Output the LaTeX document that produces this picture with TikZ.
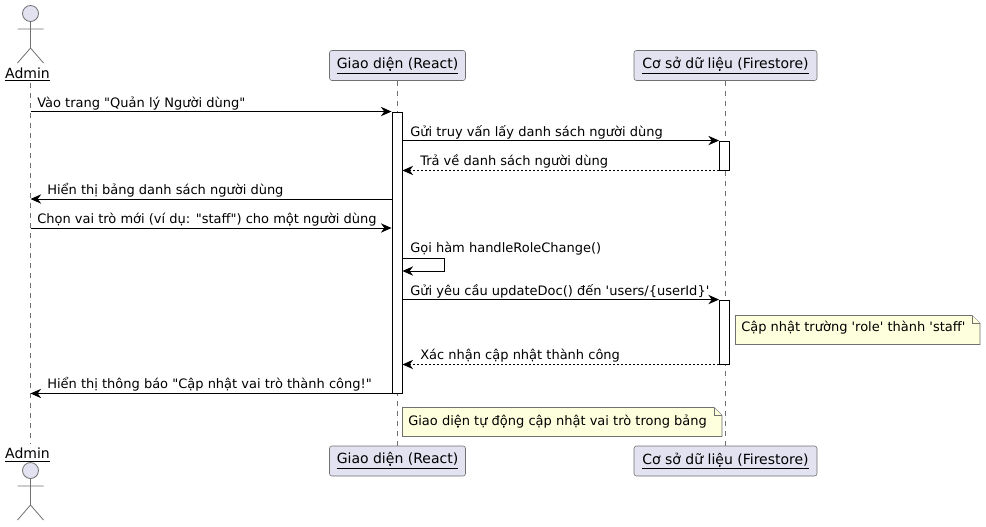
\documentclass[tikz,border=0pt]{standalone}
\usepackage{fontspec}
\setmainfont[Ligatures=TeXOff]{DejaVu Sans}
\usetikzlibrary{arrows.meta}
\definecolor{partfill}{HTML}{E2E2F0}
\definecolor{notefill}{HTML}{FEFFDD}
\definecolor{edgegray}{HTML}{707070}
\tikzset{
	partbox/.style={draw=edgegray, fill=partfill, rounded corners=1.8pt, minimum width=136\pxu, minimum height=30\pxu, inner sep=0pt, font=\fontsize{10.5}{12}\selectfont},
	actorname/.style={inner sep=0pt, font=\fontsize{10.5}{12}\selectfont},
	actorline/.style={draw=edgegray, line width=.6pt},
	lifeline/.style={draw=edgegray, line width=.5pt, dash pattern=on 3.75pt off 3.75pt},
	bar/.style={draw=black, fill=white, line width=.7pt, minimum width=10\pxu, inner sep=0pt},
	msg/.style={draw=black, line width=.75pt, -{Stealth[length=8pt, width=7pt, inset=2.6pt]}},
	reply/.style={msg, dash pattern=on 1.5pt off 1.5pt},
	msgtext/.style={anchor=base west, inner sep=0pt, font=\fontsize{9.75}{12}\selectfont},
	noteline/.style={draw=edgegray, fill=notefill, line width=.6pt},
}
\newlength{\pxu}
\setlength{\pxu}{.75pt}
\begin{document}
\begin{tikzpicture}[x=.75pt, y=-.75pt]
	\useasboundingbox (0,0) rectangle (986,526);

	\coordinate (adminTop) at (30.5,83);
	\coordinate (adminBot) at (30.5,444);
	\node[partbox] (reactTop) at (397.5,65.5) {\raisebox{-.8pt}{\underline{Giao diện (React)}}};
	\node[partbox] (reactBot) at (397.5,461)  {\raisebox{-.8pt}{\underline{Giao diện (React)}}};
	\node[partbox, minimum width=183\pxu] (storeTop) at (725.5,65.5) {\raisebox{-.8pt}{\underline{Cơ sở dữ liệu (Firestore)}}};
	\node[partbox, minimum width=183\pxu] (storeBot) at (725.5,461)  {\raisebox{-.8pt}{\underline{Cơ sở dữ liệu (Firestore)}}};

	\draw[lifeline] (adminTop) -- (adminBot);
	\draw[lifeline] (reactTop) -- (reactBot);
	\draw[lifeline] (storeTop) -- (storeBot);

	\draw[actorline, fill=partfill] (30.5,13.5) circle (8);
	\draw[actorline] (30.5,21.5) -- (30.5,48) (17.5,29) -- (43.5,29) (17.5,63) -- (30.5,48) -- (43.5,63);
	\node[actorname] (adminName) at (27.5,74.5) {\underline{Admin}};
	\node[actorname] (adminNameBot) at (27.5,455) {\underline{Admin}};
	\draw[actorline, fill=partfill] (30.5,470.5) circle (8);
	\draw[actorline] (30.5,478.5) -- (30.5,505) (17.5,486) -- (43.5,486) (17.5,520) -- (30.5,505) -- (43.5,520);

	\node[bar, minimum height=281\pxu] (reactBar)  at (397,252.5) {};
	\node[bar, minimum height=29\pxu]  (storeBarA) at (724.5,155.5) {};
	\node[bar, minimum height=64\pxu]  (storeBarB) at (724.5,332)   {};

	\coordinate (selfA) at (444.5,258);
	\coordinate (selfB) at (444.5,271);

	\draw[msg]   (adminTop |- reactBar.north)   -- (reactBar.north west);
	\draw[msg]   (reactBar.east |- storeBarA.north) -- (storeBarA.north west);
	\draw[reply] (storeBarA.south west) -- (reactBar.east |- storeBarA.south);
	\draw[msg]   (reactBar.west |- 0,199) -- (adminTop |- 0,199);
	\draw[msg]   (adminTop |- 0,228) -- (reactBar.west |- 0,228);
	\draw[msg]   (reactBar.east |- selfA) -- (selfA) -- (selfB) -- (reactBar.east |- selfB);
	\draw[msg]   (reactBar.east |- storeBarB.north) -- (storeBarB.north west);
	\draw[reply] (storeBarB.south west) -- (reactBar.east |- storeBarB.south);
	\draw[msg]   (reactBar.south west) -- (adminTop |- reactBar.south);

	\node[msgtext] (t1) at (37,107.5)  {Vào trang "Quản lý Người dùng"};
	\node[msgtext] (t2) at (410,136.5) {Gửi truy vấn lấy danh sách người dùng};
	\node[msgtext] (t3) at (420,165.5) {Trả về danh sách người dùng};
	\node[msgtext] (t4) at (47,194.5)  {Hiển thị bảng danh sách người dùng};
	\node[msgtext] (t5) at (37,223.5)  {Chọn vai trò mới (ví dụ: "staff") cho một người dùng};
	\node[msgtext] (t6) at (410,252.5) {Gọi hàm handleRoleChange()};
	\node[msgtext] (t7) at (410,295.5) {Gửi yêu cầu updateDoc() đến 'users/\{userId\}'};
	\node[msgtext] (t8) at (420,359.5) {Xác nhận cập nhật thành công};
	\node[msgtext] (t9) at (47,388.5)  {Hiển thị thông báo "Cập nhật vai trò thành công!"};

	\draw[noteline] (735.5,315.5) -- (972,315.5) -- (980,323.5) -- (980,344.5) -- (735.5,344.5) -- cycle;
	\draw[noteline] (972,315.5) -- (972,323.5) -- (980,323.5);
	\node[msgtext] (n1) at (741,331.5) {Cập nhật trường 'role' thành 'staff'};
	\draw[noteline] (402.5,407.5) -- (714,407.5) -- (722,415.5) -- (722,436.5) -- (402.5,436.5) -- cycle;
	\draw[noteline] (714,407.5) -- (714,415.5) -- (722,415.5);
	\node[msgtext] (n2) at (408,425.5) {Giao diện tự động cập nhật vai trò trong bảng};
\end{tikzpicture}
\end{document}
